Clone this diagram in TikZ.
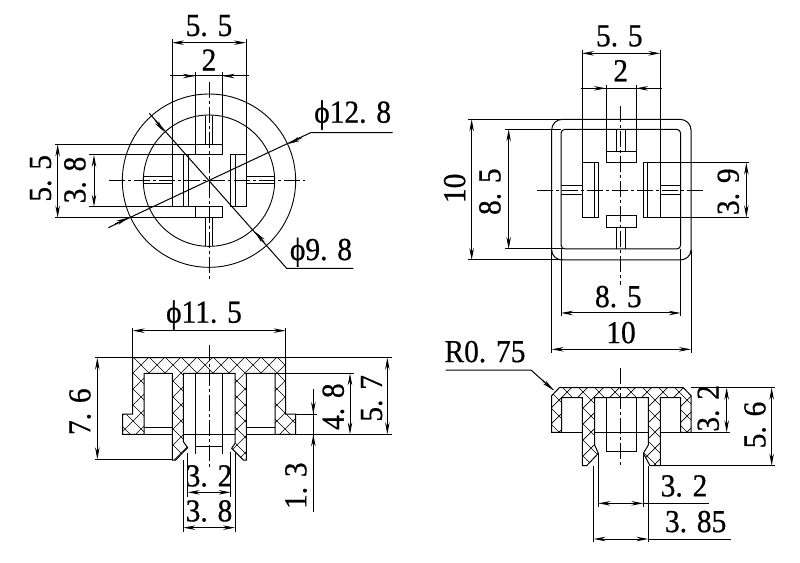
\documentclass[tikz,border=0pt]{standalone}
\usepackage{fontspec}
\setmainfont[FakeStretch=0.92,FakeBold=0.6]{Liberation Serif}
\usetikzlibrary{arrows.meta}
\tikzset{
  viewA/.style={shift={(20,0)},x=.33333pt,y=-.33333pt},
  viewB/.style={shift={(430,10)},x=.33333pt,y=-.33333pt},
  viewC/.style={shift={(60,295)},x=.33333pt,y=-.33333pt},
  viewD/.style={shift={(430,330)},x=.33333pt,y=-.33333pt},
  ln/.style={draw=black,line width=1pt},
  thin line/.style={draw=black,line width=.9pt},
  dimline/.style={draw=black,line width=1pt,{Stealth[length=12pt,width=4.5pt]}-{Stealth[length=12pt,width=4.5pt]}},
  endarrow/.style={draw=black,line width=1pt,-{Stealth[length=12pt,width=4.5pt]}},
  centre/.style={draw=black,line width=.9pt,dash pattern=on 16pt off 3pt on 3pt off 3pt},
  hatchline/.style={draw=black,line width=.7pt},
  lab/.style={font=\fontsize{32}{32}\selectfont,inner sep=0pt,text=black},
  rlab/.style={lab,rotate=90}
}
\newcommand{\crosshatch}{%
  \foreach \c in {21,69,...,1800}{%
    \draw[hatchline] (\c,0) -- ({\c-700},700);
  }
  \foreach \c in {13,61,...,1800}{%
    \draw[hatchline] ({\c-700},0) -- (\c,700);
  }}
\newcommand{\sectionC}{(218,188) -- (677,188) -- (677,357) -- (707,357) -- (707,418) -- (645,418)
  -- (645,235) -- (559,235) -- (559,495) -- (550,495) -- (515,460) -- (525,445)
  -- (525,235) -- (370,235) -- (370,440) -- (383,458) -- (347,495) -- (337,495)
  -- (337,235) -- (252,235) -- (252,418) -- (188,418) -- (188,357) -- (218,357) -- cycle}
\newcommand{\sectionD}{(365,197) -- (388,173) -- (760,173) -- (783,197) -- (783,307) -- (752,307)
  -- (752,203) -- (691,203) -- (691,407) -- (660,407) -- (640,370) -- (655,345)
  -- (655,203) -- (494,203) -- (494,345) -- (505,370) -- (470,407) -- (457,407)
  -- (457,203) -- (395,203) -- (395,307) -- (365,307) -- cycle}
\begin{document}
\begin{tikzpicture}[x=1pt,y=-1pt]
\useasboundingbox (0,0) rectangle (800,562);
\fill[white] (0,0) rectangle (800,562);

% ---------- top-left view
\begin{scope}[viewA]
\draw[thin line] (567,542) circle[radius=260];
\draw[thin line] (567,542) circle[radius=197];
\draw[centre] (268,541) -- (855,541);
\draw[centre] (567,245) -- (567,840);
\draw[ln] (556,348) -- (556,433) (578,348) -- (578,433);
\draw[ln] (556,653) -- (556,738) (578,653) -- (578,738);
\draw[ln] (370,530) -- (456,530) (370,552) -- (456,552);
\draw[ln] (678,530) -- (765,530) (678,552) -- (765,552);
\draw[ln] (456,465) -- (505,465) -- (505,620) (490,465) -- (490,620);
\draw[ln] (678,465) -- (632,465) -- (632,620) -- (678,620) (645,465) -- (645,620);
\draw[ln] (456,118) -- (456,620) (678,118) -- (678,620);
\draw[ln] (525,215) -- (525,465) (608,215) -- (608,465);
\draw[ln] (105,433) -- (608,433) (208,465) -- (608,465);
\draw[ln] (208,620) -- (608,620) -- (608,653) -- (105,653) (525,620) -- (525,653);
\draw[dimline] (456,128) -- (678,128);
\draw[ln] (450,228) -- (686,228);
\draw[endarrow] (485,228) -- (525,228);
\draw[endarrow] (648,228) -- (608,228);
\draw[dimline] (113,433) -- (113,653);
\draw[dimline] (222,465) -- (222,620);
\draw[ln] (1118,398) -- (872,398) -- (265,683);
\draw[endarrow] (845,413) -- (805,432);
\draw[endarrow] (285,672) -- (325,653);
\draw[ln] (1000,805) -- (800,805) -- (388,340);
\draw[endarrow] (405,360) -- (432,395);
\draw[endarrow] (733,727) -- (705,695);
\node[lab] (a1) at (567,77) {5. 5};
\node[lab] (a2) at (567,180) {2};
\node[lab] (a3) at (998,345) {ϕ12. 8};
\node[lab] (a4) at (903,757) {ϕ9. 8};
\node[rlab] (a5) at (62,535) {5. 5};
\node[rlab] (a6) at (165,540) {3. 8};
\end{scope}

% ---------- top-right view
\begin{scope}[viewB]
\draw[ln] (365,360) to[out=90,in=180] (397,328) -- (750,328) to[out=0,in=90] (783,360)
  -- (783,720) to[out=270,in=0] (750,750) -- (397,750) to[out=180,in=270] (365,720) -- cycle;
\draw[ln,rounded corners=4pt] (393,358) rectangle (752,717);
\draw[centre] (322,540) -- (825,540);
\draw[centre] (572,288) -- (572,825);
\draw[ln] (560,358) -- (560,425) (587,358) -- (587,425);
\draw[ln] (528,425) -- (618,425) (528,458) -- (618,458);
\draw[ln] (528,618) rectangle (618,652);
\draw[ln] (560,652) -- (560,717) (587,652) -- (587,717);
\draw[ln] (393,527) -- (456,527) (393,553) -- (456,553);
\draw[ln] (691,527) -- (752,527) (691,553) -- (752,553);
\draw[ln] (456,458) -- (506,458) -- (506,622) -- (456,622) (492,458) -- (492,622);
\draw[ln] (640,458) -- (640,622) (653,458) -- (653,622);
\draw[ln] (640,458) -- (958,458) (640,622) -- (958,622);
\draw[ln] (456,120) -- (456,622) (691,120) -- (691,622);
\draw[ln] (528,225) -- (528,458) (618,225) -- (618,458);
\draw[ln] (115,328) -- (397,328) (115,750) -- (400,750);
\draw[ln] (225,358) -- (393,358) (225,717) -- (400,717);
\draw[ln] (365,720) -- (365,1030) (783,720) -- (783,1030);
\draw[ln] (393,717) -- (393,918) (752,717) -- (752,918);
\draw[dimline] (456,130) -- (691,130);
\draw[ln] (452,235) -- (695,235);
\draw[endarrow] (487,235) -- (528,235);
\draw[endarrow] (658,235) -- (618,235);
\draw[dimline] (125,328) -- (125,750);
\draw[dimline] (236,358) -- (236,717);
\draw[dimline] (949,458) -- (949,622);
\draw[dimline] (393,909) -- (752,909);
\draw[dimline] (365,1018) -- (783,1018);
\node[lab] (b1) at (568,78) {5. 5};
\node[lab] (b2) at (572,182) {2};
\node[rlab] (b3) at (74,535) {10};
\node[rlab] (b4) at (180,545) {8. 5};
\node[rlab] (b5) at (895,545) {3. 9};
\node[lab] (b6) at (565,860) {8. 5};
\node[lab] (b7) at (573,968) {10};
\end{scope}

% ---------- bottom-left section
\begin{scope}[viewC]
\begin{scope}
\clip \sectionC;
\crosshatch
\end{scope}
\draw[ln] \sectionC;
\draw[centre] (447,150) -- (447,520);
\draw[ln] (252,397) -- (337,397) (559,397) -- (645,397);
\draw[ln] (370,418) -- (525,418) (559,418) -- (995,418);
\draw[ln] (252,418) -- (337,418);
\draw[ln] (406,235) -- (406,478) (488,235) -- (488,478) (406,455) -- (488,455);
\draw[ln] (383,475) -- (383,605) (512,470) -- (512,605);
\draw[ln] (370,495) -- (370,710) (525,470) -- (525,710);
\draw[ln] (218,98) -- (218,188) (677,98) -- (677,188);
\draw[ln] (105,188) -- (218,188) (677,188) -- (995,188);
\draw[ln] (105,493) -- (337,493);
\draw[ln] (645,235) -- (882,235);
\draw[ln] (707,357) -- (770,357);
\draw[dimline] (218,107) -- (677,107);
\draw[dimline] (112,188) -- (112,493);
\draw[dimline] (870,235) -- (870,418);
\draw[dimline] (982,188) -- (982,418);
\draw[ln] (760,283) -- (760,650);
\draw[endarrow] (760,318) -- (760,357);
\draw[endarrow] (760,457) -- (760,418);
\draw[dimline] (383,592) -- (512,592);
\draw[dimline] (370,698) -- (525,698);
\node[lab] (c1) at (432,60) {ϕ11. 5};
\node[rlab] (c2) at (60,350) {7. 6};
\node[lab] (c3) at (447,543) {3. 2};
\node[lab] (c4) at (447,648) {3. 8};
\node[rlab] (c5) at (820,335) {4. 8};
\node[rlab] (c6) at (935,310) {5. 7};
\node[rlab] (c7) at (708,572) {1. 3};
\end{scope}

% ---------- bottom-right section
\begin{scope}[viewD]
\begin{scope}
\clip \sectionD;
\crosshatch
\end{scope}
\draw[ln] \sectionD;
\draw[centre] (572,115) -- (572,410);
\draw[ln] (395,307) -- (457,307) (494,307) -- (655,307) (691,307) -- (900,307);
\draw[ln] (528,203) -- (528,364) -- (618,364) -- (618,203);
\draw[ln] (505,370) -- (505,530) (640,370) -- (640,530);
\draw[ln] (491,407) -- (491,637) (655,407) -- (655,637);
\draw[ln] (783,173) -- (1035,173);
\draw[ln] (691,407) -- (1035,407);
\draw[dimline] (1025,173) -- (1025,407);
\draw[dimline] (890,173) -- (890,307);
\draw[dimline] (505,520) -- (640,520);
\draw[ln] (640,520) -- (838,520);
\draw[dimline] (491,627) -- (655,627);
\draw[ln] (655,627) -- (902,627);
\draw[ln] (47,120) -- (303,120) -- (370,180);
\draw[endarrow] (338,152) -- (370,180);
\node[lab] (d1) at (165,65) {R0. 75};
\node[lab] (d2) at (762,468) {3. 2};
\node[lab] (d3) at (797,575) {3. 85};
\node[rlab] (d4) at (835,235) {3. 2};
\node[rlab] (d5) at (975,285) {5. 6};
\end{scope}
\end{tikzpicture}
\end{document}
